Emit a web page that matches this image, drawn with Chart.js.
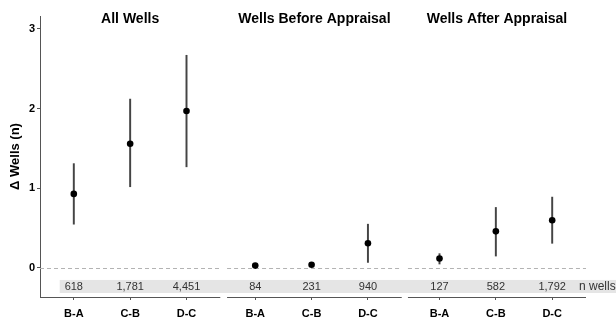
<!DOCTYPE html>
<html><head><meta charset="utf-8">
<script src="https://cdn.jsdelivr.net/npm/chart.js@4.4.1/dist/chart.umd.min.js"></script>
<style>html,body{margin:0;padding:0;background:#fff;}#wrap{width:616px;height:320px;}</style>
</head><body><div id="wrap"><canvas id="c" width="616" height="320"></canvas></div>
<script>
// ---- data ----
const panels = ['All Wells', 'Wells Before Appraisal', 'Wells After Appraisal'];
const categories = ['B-A', 'C-B', 'D-C'];
const allMean = [0.93, 1.56, 1.97];
const allLow  = [0.55, 1.02, 1.27];
const allHigh = [1.31, 2.12, 2.67];
const beforeMean = [0.03, 0.04, 0.31];
const beforeLow  = [0.01, 0.02, 0.07];
const beforeHigh = [0.05, 0.06, 0.55];
const afterMean = [0.12, 0.46, 0.60];
const afterLow  = [0.05, 0.15, 0.31];
const afterHigh = [0.18, 0.76, 0.89];
const allN = ['618', '1,781', '4,451'];
const beforeN = ['84', '231', '940'];
const afterN = ['127', '582', '1,792'];
const yTicks = [0, 1, 2, 3];
const nLabel = 'n wells';
const yTitle = 'Δ Wells (n)';

// ---- layout (not data) ----
const panelOffset = [0, 3.22, 6.49];
const panelPadL = [0.6, 0.5, 0.56];
const panelPadR = 0.6;
const FONT = '"Liberation Sans", Arial, Helvetica, sans-serif';

const means = [allMean, beforeMean, afterMean];
const lows = [allLow, beforeLow, afterLow];
const highs = [allHigh, beforeHigh, afterHigh];
const ns = [allN, beforeN, afterN];

const xPos = [];
const pointData = [];
const barData = [];
const nData = [];
panels.forEach((p, i) => {
  categories.forEach((c, j) => {
    const x = panelOffset[i] + j;
    xPos.push(x);
    pointData.push({x: x, y: means[i][j]});
    barData.push({x: x, y: [lows[i][j], highs[i][j]]});
    nData.push({x: x, label: ns[i][j]});
  });
});
const panelBounds = panels.map((p, i) => [panelOffset[i] - panelPadL[i], panelOffset[i] + categories.length - 1 + panelPadR]);

const decor = {
  id: 'decor',
  beforeDatasetsDraw(chart) {
    const ctx = chart.ctx, xs = chart.scales.x, ys = chart.scales.y, ca = chart.chartArea;
    ctx.save();
    // gray n band
    const bx0 = xs.getPixelForValue(-0.25);
    const by0 = ys.getPixelForValue(-0.15), by1 = ys.getPixelForValue(-0.314);
    ctx.fillStyle = '#e5e5e5';
    ctx.fillRect(bx0, by0, chart.width - bx0, by1 - by0);
    // zero dashed lines per panel
    const y0 = Math.round(ys.getPixelForValue(0)) + 0.5;
    ctx.strokeStyle = '#b3b3b3';
    ctx.lineWidth = 1;
    ctx.setLineDash([4, 3]);
    panelBounds.forEach(b => {
      ctx.beginPath();
      ctx.moveTo(xs.getPixelForValue(b[0]), y0);
      ctx.lineTo(xs.getPixelForValue(b[1]), y0);
      ctx.stroke();
    });
    ctx.setLineDash([]);
    // x axis segments
    ctx.strokeStyle = '#555';
    const yb = Math.round(ca.bottom) + 0.5;
    panelBounds.forEach(b => {
      ctx.beginPath();
      ctx.moveTo(xs.getPixelForValue(b[0]), yb);
      ctx.lineTo(xs.getPixelForValue(b[1]), yb);
      ctx.stroke();
    });
    ctx.restore();
  },
  afterDatasetsDraw(chart) {
    const ctx = chart.ctx, xs = chart.scales.x, ys = chart.scales.y, ca = chart.chartArea;
    ctx.save();
    const yc = ys.getPixelForValue(-0.232);
    ctx.fillStyle = '#333';
    ctx.font = '11px ' + FONT;
    ctx.textAlign = 'center';
    ctx.textBaseline = 'middle';
    nData.forEach(d => ctx.fillText(d.label, xs.getPixelForValue(d.x), yc));
    ctx.textAlign = 'left';
    ctx.font = '12px ' + FONT;
    ctx.fillText(nLabel, ca.right - 7, yc);
    // panel titles
    ctx.fillStyle = '#000';
    ctx.font = 'bold 14px ' + FONT;
    ctx.textAlign = 'center';
    panelBounds.forEach((b, i) => {
      ctx.fillText(panels[i], (xs.getPixelForValue(b[0]) + xs.getPixelForValue(b[1])) / 2, 19);
    });
    ctx.restore();
  }
};

new Chart(document.getElementById('c'), {
  type: 'scatter',
  data: {
    datasets: [
      {type: 'bar', data: barData, backgroundColor: '#444', borderWidth: 0, barThickness: 1.3, order: 2},
      {type: 'scatter', data: pointData, backgroundColor: '#000', borderWidth: 0, pointRadius: 3.3, order: 1}
    ]
  },
  options: {
    responsive: false,
    animation: false,
    devicePixelRatio: 1,
    layout: {padding: {left: 0, right: 30, top: 16, bottom: 0}},
    plugins: {legend: {display: false}, tooltip: {enabled: false}},
    events: [],
    scales: {
      x: {
        type: 'linear', min: -0.6, max: 9.09, offset: false,
        afterBuildTicks: s => { s.ticks = xPos.map(v => ({value: v})); },
        afterFit: s => { s.height = 23; },
        grid: {drawOnChartArea: false, offset: false, tickLength: 3, color: '#555', tickColor: '#555'},
        border: {display: false},
        ticks: {
          autoSkip: false, maxRotation: 0, padding: 7, color: '#000',
          font: {family: FONT, size: 11, weight: 'bold'},
          callback: (v, i) => categories[i % categories.length]
        }
      },
      y: {
        type: 'linear', min: -0.364, max: 3.163,
        afterBuildTicks: s => { s.ticks = yTicks.map(v => ({value: v})); },
        afterFit: s => { s.width = 40; },
        grid: {drawOnChartArea: false, tickLength: 3, color: '#555', tickColor: '#555'},
        border: {display: true, color: '#555', width: 1},
        ticks: {padding: 2, color: '#000', font: {family: FONT, size: 11, weight: 'bold'}},
        title: {display: true, text: yTitle, color: '#000', font: {family: FONT, size: 13, weight: 'bold'}, padding: {top: 8, bottom: 0}}
      }
    }
  },
  plugins: [decor]
});
</script></body></html>
